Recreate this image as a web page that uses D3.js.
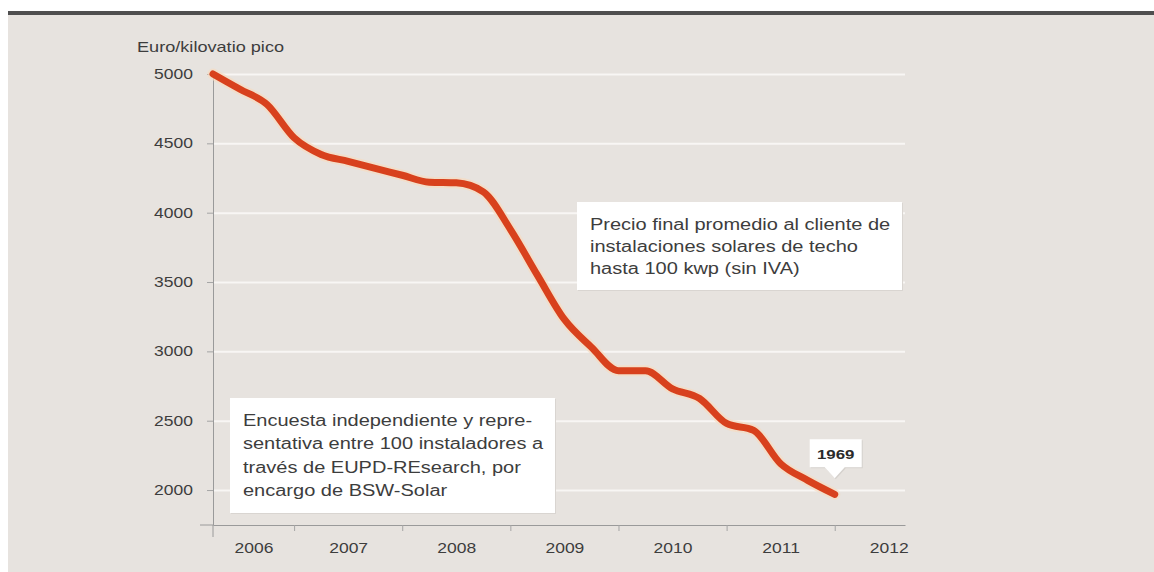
<!DOCTYPE html>
<html>
<head>
<meta charset="utf-8">
<script src="https://cdn.jsdelivr.net/npm/d3@7"></script>
<style>
  body { margin: 0; background: #fff; }
  svg text { font-family: "Liberation Sans", Arial, sans-serif; fill: #3d3d3d; }
</style>
</head>
<body>
<div id="chart"></div>
<script>
// Data: quarterly price, euro per kWp
const quarters = ["2006-2", "2006-3", "2006-4",
  "2007-1", "2007-2", "2007-3", "2007-4",
  "2008-1", "2008-2", "2008-3", "2008-4",
  "2009-1", "2009-2", "2009-3", "2009-4",
  "2010-1", "2010-2", "2010-3", "2010-4",
  "2011-1", "2011-2", "2011-3", "2011-4",
  "2012-1"];
const prices = [5000, 4890, 4780,
  4540, 4420, 4370, 4320,
  4270, 4220, 4215, 4150,
  3880, 3550, 3230, 3030,
  2860, 2860, 2730, 2660,
  2480, 2430, 2190, 2070,
  1969];
const yearLabels = ["2006", "2007", "2008", "2009", "2010", "2011", "2012"];
const priceTicks = [2000, 2500, 3000, 3500, 4000, 4500, 5000];

const noteRight = ["Precio final promedio al cliente de",
  "instalaciones solares de techo",
  "hasta 100 kwp (sin IVA)"];
const noteLeft = ["Encuesta independiente y repre-",
  "sentativa entre 100 instaladores a",
  "través de EUPD-REsearch, por",
  "encargo de BSW-Solar"];

const svgWidth = 1154;
const svgHeight = 572;
// the picture is stretched sideways, so every text is too
const sx = 1.25;

const plot = { left: 213, right: 905, top: 74, bottom: 525 };

const svg = d3.select("#chart")
  .append("svg")
  .attr("width", svgWidth)
  .attr("height", svgHeight);

// backdrop and dark top rule
svg.append("rect")
  .attr("x", 8).attr("y", 15)
  .attr("width", svgWidth - 8).attr("height", svgHeight - 15)
  .attr("fill", "#e7e3df");
svg.append("rect")
  .attr("x", 8).attr("y", 11)
  .attr("width", svgWidth - 8).attr("height", 4)
  .attr("fill", "#4f4f4f");

const data = quarters.map((q, i) => {
  const [yr, qt] = q.split("-");
  return { t: +yr + (+qt - 1) / 4, v: prices[i] };
});

const x = d3.scaleLinear()
  .domain([2006.25, 2012.65])
  .range([plot.left, plot.right]);

const y = d3.scaleLinear()
  .domain([1748, 5000])
  .range([plot.bottom, plot.top]);

// gridlines
const grid = svg.append("g")
  .attr("transform", `translate(${plot.left}, 0)`)
  .call(d3.axisLeft(y).tickValues(priceTicks).tickSize(-(plot.right - plot.left)).tickFormat(""));
grid.select(".domain").remove();
grid.selectAll("line")
  .attr("stroke", "#f8f6f4")
  .attr("stroke-width", 2);

// y axis
const yAxis = svg.append("g")
  .attr("transform", `translate(${plot.left}, 0)`)
  .call(d3.axisLeft(y).tickValues(priceTicks).tickSize(6).tickSizeOuter(0).tickFormat(d3.format("d")));
yAxis.select(".domain").attr("stroke", "#9a9a9a");
yAxis.selectAll("line").attr("stroke", "#a5a5a5");
yAxis.selectAll("text")
  .attr("x", -16)
  .attr("transform", `scale(${sx},1)`)
  .style("font-size", "14px");

// x axis
const xAxis = svg.append("g")
  .attr("transform", `translate(0, ${plot.bottom})`)
  .call(d3.axisBottom(x).tickValues(d3.range(2007, 2013)).tickSize(6).tickSizeOuter(0).tickFormat(""));
xAxis.select(".domain").attr("stroke", "#9a9a9a");
xAxis.selectAll("line").attr("stroke", "#a5a5a5");
xAxis.append("line")
  .attr("x1", plot.left - 13).attr("x2", plot.left)
  .attr("stroke", "#9a9a9a");
xAxis.append("line")
  .attr("x1", plot.left).attr("x2", plot.left)
  .attr("y1", 0).attr("y2", 12)
  .attr("stroke", "#9a9a9a");

// year labels sit in the middle of each visible year
const start = x.domain()[0];
const mids = yearLabels.map(d => (Math.max(+d, start) + (+d + 1)) / 2);
const yearAxis = svg.append("g")
  .attr("transform", `translate(0, ${plot.bottom})`)
  .call(d3.axisBottom(x).tickValues(mids).tickSize(0).tickPadding(18)
    .tickFormat((d, i) => yearLabels[i]));
yearAxis.select(".domain").remove();
yearAxis.selectAll("text")
  .attr("transform", `scale(${sx},1)`)
  .style("font-size", "14px");

// unit label
svg.append("text")
  .attr("transform", `translate(137, 52) scale(${sx},1)`)
  .style("font-size", "14.5px")
  .text("Euro/kilovatio pico");

// the price line
const line = d3.line()
  .x(d => x(d.t))
  .y(d => y(d.v))
  .curve(d3.curveMonotoneX);

svg.append("path")
  .datum(data)
  .attr("d", line)
  .attr("fill", "none")
  .attr("stroke", "#f6dcc0")
  .attr("stroke-opacity", 0.7)
  .attr("stroke-width", 11)
  .attr("stroke-linejoin", "round")
  .attr("stroke-linecap", "round");

svg.append("path")
  .datum(data)
  .attr("d", line)
  .attr("fill", "none")
  .attr("stroke", "#d8411d")
  .attr("stroke-width", 7)
  .attr("stroke-linejoin", "round")
  .attr("stroke-linecap", "round");

// note boxes
function noteBox(x0, y0, w, h, lines, lineH) {
  svg.append("rect")
    .attr("x", x0 + 1).attr("y", y0 + 1)
    .attr("width", w).attr("height", h)
    .attr("fill", "#d9d5d1");
  svg.append("rect")
    .attr("x", x0).attr("y", y0)
    .attr("width", w).attr("height", h)
    .attr("fill", "#ffffff");
  lines.forEach((l, i) => {
    svg.append("text")
      .attr("transform", `translate(${x0 + 13}, ${y0 + 28 + i * lineH}) scale(${sx},1)`)
      .style("font-size", "16px")
      .text(l);
  });
}

noteBox(577, 202, 325, 88, noteRight, 22);
noteBox(230, 398, 325, 115, noteLeft, 23.3);

// end value callout
const last = data[data.length - 1];
const lx = x(last.t);
const ly = y(last.v);
const callout = svg.append("g")
  .attr("transform", `translate(${lx}, ${ly})`);
callout.append("path")
  .attr("d", "M-25,-55 H27 V-27 H10 L0,-16 L-10,-27 H-25 Z")
  .attr("fill", "#d5d1cd")
  .attr("transform", "translate(1,1)");
callout.append("path")
  .attr("d", "M-25,-55 H27 V-27 H10 L0,-16 L-10,-27 H-25 Z")
  .attr("fill", "#ffffff");
callout.append("text")
  .attr("transform", `translate(1, -35) scale(${sx},1)`)
  .attr("text-anchor", "middle")
  .style("font-size", "13.5px")
  .style("font-weight", "bold")
  .style("fill", "#2a2a2a")
  .text(String(last.v));
</script>
</body>
</html>
